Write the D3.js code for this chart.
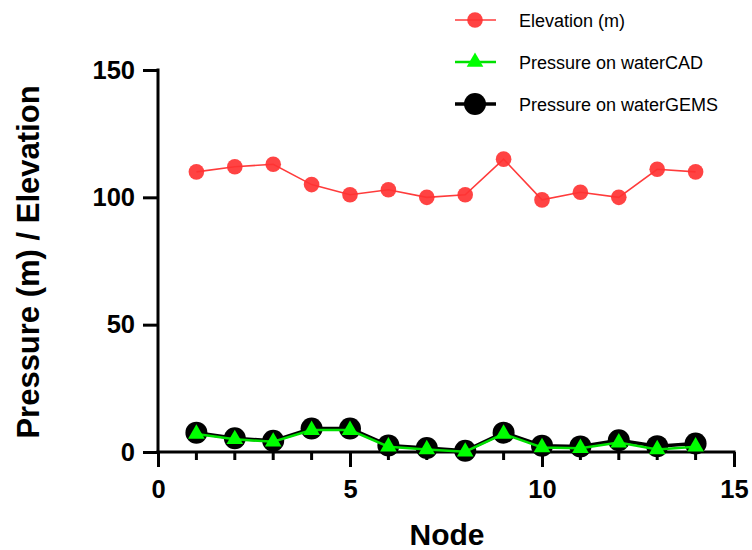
<!DOCTYPE html>
<html>
<head>
<meta charset="utf-8">
<script src="https://cdn.jsdelivr.net/npm/d3@7"></script>
<style>
  body { margin: 0; background: #fff; }
  svg { font-family: Arial, "Liberation Sans", sans-serif; }
</style>
</head>
<body>
<svg id="chart" width="752" height="550"></svg>
<script>
// node numbers and readings
var nodes = [1, 2, 3, 4, 5, 6, 7, 8, 9, 10, 11, 12, 13, 14];
var elevation = [110, 112, 113, 105, 101, 103, 100, 101, 115, 99, 102, 100, 111, 110];
var pressureCAD = [7.1, 5.0, 4.0, 8.6, 8.6, 2.1, 1.0, 0.1, 7.1, 1.8, 1.5, 3.7, 1.0, 2.1];
var pressureGEMS = [7.6, 5.4, 4.4, 9.2, 9.2, 2.6, 1.6, 0.5, 7.6, 2.5, 2.2, 4.6, 2.3, 3.3];
var xTicks = [0, 5, 10, 15];
var yTicks = [0, 50, 100, 150];
var legendNames = ["Elevation (m)", "Pressure on waterCAD", "Pressure on waterGEMS"];

var svg = d3.select("#chart");
var x = d3.scaleLinear().domain([0, 15]).range([158, 734]);
var y = d3.scaleLinear().domain([0, 150]).range([452, 70]);

// axes
var xAxis = svg.append("g").attr("transform", "translate(0,452)");
xAxis.call(d3.axisBottom(x).tickValues(xTicks).tickSize(15).tickPadding(13).tickFormat(d3.format("d")));
// minor ticks on x
xAxis.selectAll(".minor").data(d3.range(1, 15).filter(function(d){ return d % 5 !== 0; }))
    .enter().append("line")
    .attr("x1", function(d){ return x(d); }).attr("x2", function(d){ return x(d); })
    .attr("y1", 0).attr("y2", 8)
    .attr("stroke", "#000").attr("stroke-width", 3);

var yAxis = svg.append("g").attr("transform", "translate(158,0)");
yAxis.call(d3.axisLeft(y).tickValues(yTicks).tickSize(15).tickPadding(8).tickFormat(d3.format("d")));

[xAxis, yAxis].forEach(function(a){
    a.select(".domain").attr("stroke", "#000").attr("stroke-width", 3);
    a.selectAll(".tick line").attr("stroke", "#000").attr("stroke-width", 3);
    a.selectAll(".tick text").attr("fill", "#000").style("font-size", "25.5px").style("font-weight", "bold");
});
xAxis.select(".domain").attr("d", "M" + (x(0) - 1.5) + ",0H" + (x(15) + 1.5));
yAxis.select(".domain").attr("d", "M0," + (y(0) + 1.5) + "V" + (y(150) - 1.5));

// axis titles
svg.append("text").attr("x", 447).attr("y", 545).attr("text-anchor", "middle")
    .style("font-size", "30px").style("font-weight", "bold").text("Node");
svg.append("text").attr("transform", "translate(39,262) rotate(-90)").attr("text-anchor", "middle")
    .style("font-size", "31px").style("font-weight", "bold").text("Pressure (m) / Elevation");

var line = function(vals) {
    return d3.line().x(function(d, i){ return x(nodes[i]); }).y(function(d){ return y(d); })(vals);
};
var triangle = d3.symbol().type(d3.symbolTriangle).size(120);

// waterGEMS (black)
svg.append("path").attr("d", line(pressureGEMS)).attr("fill", "none")
    .attr("stroke", "#000").attr("stroke-width", 3.5);
svg.selectAll(".gems").data(pressureGEMS).enter().append("circle")
    .attr("cx", function(d, i){ return x(nodes[i]); }).attr("cy", function(d){ return y(d); })
    .attr("r", 11).attr("fill", "#000");

// waterCAD (green)
svg.append("path").attr("d", line(pressureCAD)).attr("fill", "none")
    .attr("stroke", "#00e000").attr("stroke-width", 2.5);
svg.selectAll(".cad").data(pressureCAD).enter().append("path")
    .attr("d", triangle)
    .attr("transform", function(d, i){ return "translate(" + x(nodes[i]) + "," + y(d) + ")"; })
    .attr("fill", "#00ff00");

// elevation (red)
svg.append("path").attr("d", line(elevation)).attr("fill", "none")
    .attr("stroke", "#ff3b3b").attr("stroke-width", 1.6);
svg.selectAll(".elev").data(elevation).enter().append("circle")
    .attr("cx", function(d, i){ return x(nodes[i]); }).attr("cy", function(d){ return y(d); })
    .attr("r", 7.8).attr("fill", "#ff3333").attr("fill-opacity", 0.92);

// legend
var leg = svg.append("g");
var rows = [20, 62, 104];
leg.append("line").attr("x1", 455).attr("x2", 496).attr("y1", rows[0]).attr("y2", rows[0])
    .attr("stroke", "#ff3b3b").attr("stroke-width", 1.6);
leg.append("circle").attr("cx", 475).attr("cy", rows[0]).attr("r", 7.8).attr("fill", "#ff3333").attr("fill-opacity", 0.92);
leg.append("line").attr("x1", 455).attr("x2", 496).attr("y1", rows[1]).attr("y2", rows[1])
    .attr("stroke", "#00e000").attr("stroke-width", 2.5);
leg.append("path").attr("d", triangle).attr("transform", "translate(475," + rows[1] + ")").attr("fill", "#00ff00");
leg.append("line").attr("x1", 455).attr("x2", 496).attr("y1", rows[2]).attr("y2", rows[2])
    .attr("stroke", "#000").attr("stroke-width", 3.5);
leg.append("circle").attr("cx", 475).attr("cy", rows[2]).attr("r", 11).attr("fill", "#000");
leg.selectAll(".lt").data(legendNames).enter().append("text")
    .attr("x", 519).attr("y", function(d, i){ return rows[i] + 6.5; })
    .style("font-size", "18px").text(function(d){ return d; });
</script>
</body>
</html>
